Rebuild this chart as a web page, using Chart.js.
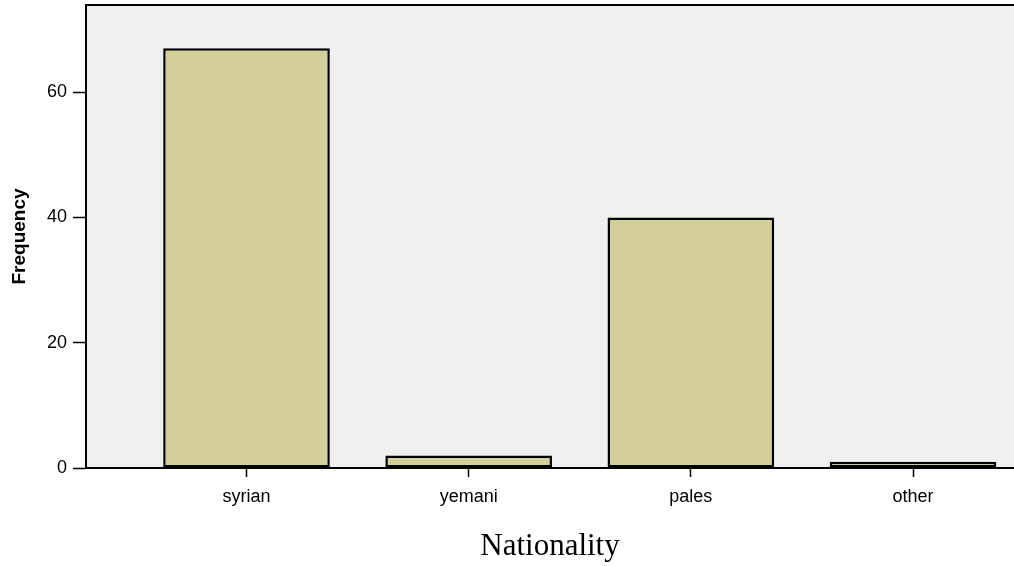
<!DOCTYPE html>
<html>
<head>
<meta charset="utf-8">
<script src="https://cdn.jsdelivr.net/npm/chart.js@4/dist/chart.umd.min.js"></script>
<style>
  html, body { margin: 0; padding: 0; background: #ffffff; }
  #wrap { width: 1014px; height: 566px; }
</style>
</head>
<body>
<div id="wrap"><canvas id="c" width="1014" height="566"></canvas></div>
<script>
// ---- data ----
const categories = ["syrian", "yemani", "pales", "other"];
const frequency = [67, 2, 40, 1];
const yTicks = [0, 20, 40, 60];
const xAxisTitle = "Nationality";
const yAxisTitle = "Frequency";

const points = categories.map((c, i) => ({ x: i, y: frequency[i] }));

const plotDecor = {
  id: "plotDecor",
  beforeDraw(chart) {
    const { ctx, chartArea: a } = chart;
    ctx.save();
    ctx.fillStyle = "#f0f0f0";
    ctx.fillRect(a.left, a.top, a.right - a.left, a.bottom - a.top);
    ctx.restore();
  },
  afterDraw(chart) {
    const { ctx, chartArea: a } = chart;
    ctx.save();
    ctx.strokeStyle = "#000";
    ctx.lineWidth = 2;
    ctx.beginPath();
    ctx.moveTo(a.left - 1, a.top);
    ctx.lineTo(a.right, a.top);
    ctx.stroke();
    ctx.restore();
  }
};

new Chart(document.getElementById("c"), {
  type: "bar",
  data: {
    datasets: [{
      data: points,
      backgroundColor: "#d3cf99",
      borderColor: "#000000",
      borderWidth: 2.5,
      borderSkipped: false,
      categoryPercentage: 1,
      barPercentage: 0.75
    }]
  },
  plugins: [plotDecor],
  options: {
    responsive: false,
    animation: false,
    devicePixelRatio: 1,
    layout: { padding: { top: 5, right: 0, left: 0, bottom: 0 } },
    plugins: { legend: { display: false }, tooltip: { enabled: false } },
    scales: {
      x: {
        type: "linear",
        offset: false,
        min: -0.7224,
        max: 3.4546,
        afterBuildTicks: (s) => { s.ticks = categories.map((c, i) => ({ value: i })); },
        afterFit: (s) => { s.height = 98; s.paddingLeft = 0; s.paddingRight = 0; },
        ticks: {
          autoSkip: false,
          maxRotation: 0,
          padding: 9,
          color: "#000",
          font: { family: "'Liberation Sans', Arial, sans-serif", size: 18 },
          callback: (v) => categories[v] ?? ""
        },
        grid: { display: true, offset: false, drawOnChartArea: false, tickLength: 9, tickColor: "#000", tickWidth: 1.5 },
        border: { display: true, color: "#000", width: 2 },
        title: {
          display: true,
          text: xAxisTitle,
          color: "#000",
          font: { family: "'Liberation Serif', 'Times New Roman', serif", size: 31, weight: "normal", lineHeight: 1.2 },
          padding: { top: 0, bottom: 1 }
        }
      },
      y: {
        min: 0,
        max: 73.9,
        afterBuildTicks: (s) => { s.ticks = yTicks.map(v => ({ value: v })); },
        afterFit: (s) => { s.width = 86; s.paddingTop = 0; s.paddingBottom = 0; },
        ticks: {
          padding: 6,
          color: "#000",
          font: { family: "'Liberation Sans', Arial, sans-serif", size: 18 }
        },
        grid: { display: true, drawOnChartArea: false, tickLength: 13, tickColor: "#000", tickWidth: 1.5 },
        border: { display: true, color: "#000", width: 2 },
        title: {
          display: true,
          text: yAxisTitle,
          color: "#000",
          font: { family: "'Liberation Sans', Arial, sans-serif", size: 19, weight: "bold", lineHeight: 1.2 },
          padding: { top: 8, bottom: 0 }
        }
      }
    }
  }
});
</script>
</body>
</html>
